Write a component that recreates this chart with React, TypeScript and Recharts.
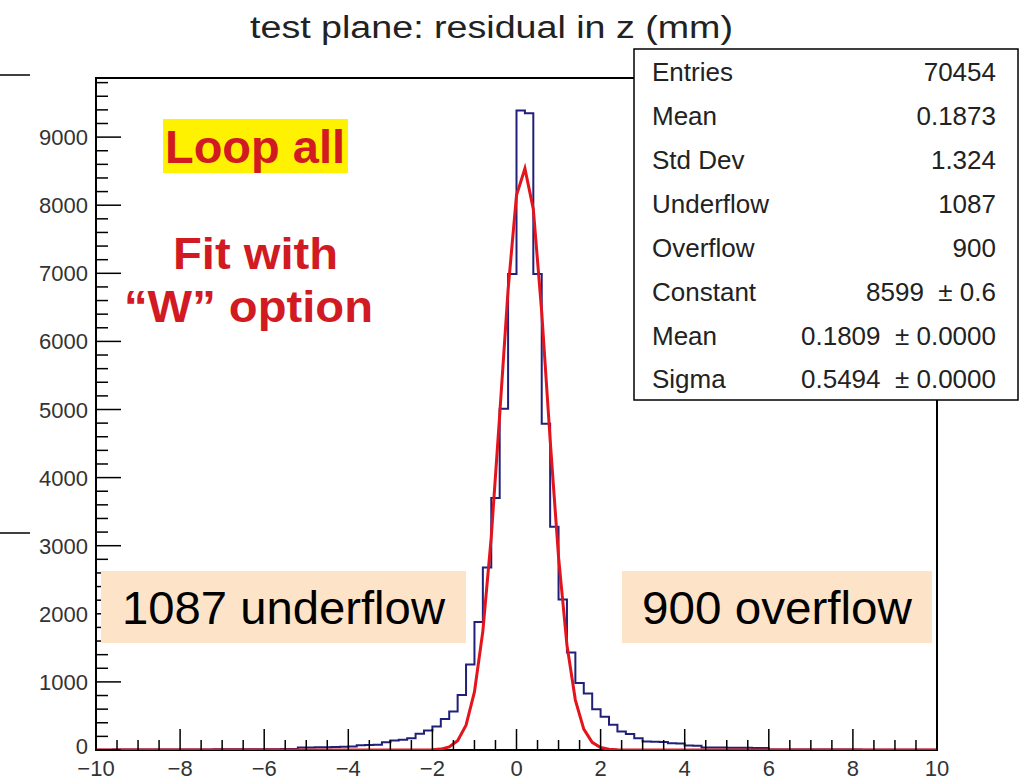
import React from "react";
import { ComposedChart, Line, XAxis, YAxis, ReferenceArea } from "recharts";

// ---- data ----
const binLow = -10;
const binWidth = 0.2;
// histogram bin contents (100 bins of 0.2 from -10 to 10)
const histCounts: number[] = [
  5, 5, 6, 6, 6, 7, 7, 7, 8, 8, 8, 9, 9, 9, 10, 10, 10, 11, 11, 12, 12, 12, 13, 13,
  36, 38, 40, 42, 44, 46,
  50,
  68, 72, 78,
  112,
  140, 152,
  172, 240, 285, 345, 455, 565, 809, 1254, 1878, 2680, 3700, 5010, 6990,
  9390, 9350,
  6990, 4790, 3280, 2210, 1430, 985, 830, 600, 490, 370, 270, 235, 172,
  124, 120, 116,
  98, 94,
  66, 62,
  38, 36, 35, 34, 33, 32, 31, 30,
  9, 9, 8, 8, 8, 7, 7, 7, 6, 6, 6, 5, 5, 5, 5, 4, 4, 4, 4, 3,
];
// fitted gaussian curve
const fitX: number[] = [-10, -2.4, -2.2, -2.0, -1.8, -1.6, -1.4, -1.2, -1.0, -0.8, -0.6, -0.4, -0.2, 0, 0.2, 0.4, 0.6, 0.8, 1.0, 1.2, 1.4, 1.6, 1.8, 2.0, 2.2, 2.4, 2.6, 10];
const fitY: number[] = [0, 0, 1, 3, 13, 45, 137, 365, 854, 1746, 3131, 4916, 6761, 8145, 8540, 7942, 6428, 4557, 2831, 1540, 733, 306, 112, 36, 10, 3, 1, 0];

const xMajorTicks: number[] = [-10, -8, -6, -4, -2, 0, 2, 4, 6, 8, 10];
const xTicks: number[] = [
  -10, -9.5, -9, -8.5, -8, -7.5, -7, -6.5, -6, -5.5, -5, -4.5, -4, -3.5, -3, -2.5, -2, -1.5, -1, -0.5,
  0, 0.5, 1, 1.5, 2, 2.5, 3, 3.5, 4, 4.5, 5, 5.5, 6, 6.5, 7, 7.5, 8, 8.5, 9, 9.5, 10,
];
const yMajorTicks: number[] = [0, 1000, 2000, 3000, 4000, 5000, 6000, 7000, 8000, 9000];
const yTicks: number[] = [
  0, 200, 400, 600, 800, 1000, 1200, 1400, 1600, 1800, 2000, 2200, 2400, 2600, 2800, 3000, 3200, 3400, 3600, 3800,
  4000, 4200, 4400, 4600, 4800, 5000, 5200, 5400, 5600, 5800, 6000, 6200, 6400, 6600, 6800, 7000, 7200, 7400, 7600, 7800,
  8000, 8200, 8400, 8600, 8800, 9000, 9200, 9400, 9600, 9800,
];
const yMax = 9868;

const statLabels: string[] = ["Entries", "Mean", "Std Dev", "Underflow", "Overflow", "Constant", "Mean", "Sigma"];
const statValues: string[] = ["70454", "0.1873", "1.324", "1087", "900", "8599  \u00b1 0.6", "0.1809  \u00b1 0.0000", "0.5494  \u00b1 0.0000"];

const titleText = "test plane: residual in z (mm)";

// tables built from the arrays
const histData = [
  ...histCounts.map((c, i) => ({ x: binLow + binWidth * i, h: c })),
  { x: 10, h: histCounts[histCounts.length - 1] },
];
const fitData = fitX.map((x, i) => ({ x, f: fitY[i] }));

const FONT = "'Liberation Sans', Arial, Helvetica, sans-serif";

const fmt = (v: number) => (v < 0 ? "\u2212" + Math.abs(v) : String(v));

const XTick = (props: any) => {
  const { x, y, payload } = props;
  const v = payload.value as number;
  const major = xMajorTicks.includes(v);
  return (
    <g>
      <line x1={x} x2={x} y1={y} y2={y - (major ? 21 : 10)} stroke="#000" strokeWidth={1.5} />
      {major && (
        <text x={x} y={y + 26} textAnchor="middle" fontSize={22} fill="#333" fontFamily={FONT}>
          {fmt(v)}
        </text>
      )}
    </g>
  );
};

const YTick = (props: any) => {
  const { x, y, payload } = props;
  const v = payload.value as number;
  const major = yMajorTicks.includes(v);
  return (
    <g>
      <line x1={x} x2={x + (major ? 25 : 12)} y1={y} y2={y} stroke="#000" strokeWidth={1.5} />
      {major && (
        <text x={x - 8} y={v === 0 ? y + 4 : y + 8} textAnchor="end" fontSize={22} fill="#333" fontFamily={FONT}>
          {String(v)}
        </text>
      )}
    </g>
  );
};

const RED = "#d11a22";

const Overlay = () => {
  const rowBase = [81, 125, 169, 213, 257, 301, 345, 388];
  return (
    <svg width={1024} height={782} style={{ position: "absolute", left: 0, top: 0, pointerEvents: "none" }}>
      {/* stray slide lines at far left */}
      <line x1={0} x2={30} y1={75} y2={75} stroke="#000" strokeWidth={1.5} />
      <line x1={0} x2={30} y1={533} y2={533} stroke="#000" strokeWidth={1.5} />
      {/* title */}
      <text x={250} y={38} fontSize={31} fill="#222" fontFamily={FONT} textLength={483} lengthAdjust="spacingAndGlyphs">
        {titleText}
      </text>
      {/* stats box */}
      <rect x={634} y={49} width={384} height={351} fill="#fff" stroke="#000" strokeWidth={1.5} />
      {statLabels.map((l, i) => (
        <text key={"l" + i} x={652} y={rowBase[i]} fontSize={26} fill="#222" fontFamily={FONT}>
          {l}
        </text>
      ))}
      {statValues.map((v, i) => (
        <text key={"v" + i} x={996} y={rowBase[i]} textAnchor="end" fontSize={26} fill="#222" fontFamily={FONT} style={{ whiteSpace: "pre" }}>
          {v}
        </text>
      ))}
      {/* Loop all */}
      <rect x={163} y={119} width={185} height={54} fill="#fff200" />
      <text x={165} y={163} fontSize={47} fontWeight="bold" fill={RED} fontFamily={FONT} textLength={180} lengthAdjust="spacingAndGlyphs">
        Loop all
      </text>
      {/* Fit with W option */}
      <text x={173} y={269} fontSize={45} fontWeight="bold" fill={RED} fontFamily={FONT} textLength={165} lengthAdjust="spacingAndGlyphs">
        Fit with
      </text>
      <text x={124} y={322} fontSize={45} fontWeight="bold" fill={RED} fontFamily={FONT} textLength={249} lengthAdjust="spacingAndGlyphs">
        {"\u201cW\u201d option"}
      </text>
      {/* underflow / overflow boxes */}
      <rect x={101} y={571} width={365} height={72} fill="#fde4c8" />
      <text x={122} y={624} fontSize={46} fill="#000" fontFamily={FONT} textLength={323} lengthAdjust="spacingAndGlyphs">
        1087 underflow
      </text>
      <rect x={622} y={571} width={310} height={72} fill="#fde4c8" />
      <text x={642} y={624} fontSize={46} fill="#000" fontFamily={FONT} textLength={270} lengthAdjust="spacingAndGlyphs">
        900 overflow
      </text>
    </svg>
  );
};

export default function App() {
  return (
    <div style={{ position: "absolute", left: 0, top: 0, width: 1024, height: 782, background: "#fff", overflow: "hidden" }}>
      <ComposedChart width={1024} height={782} margin={{ top: 78, right: 87, bottom: 2, left: 36 }}>
        <XAxis
          dataKey="x"
          type="number"
          domain={[-10, 10]}
          ticks={xTicks}
          interval={0}
          allowDataOverflow
          height={30}
          tickSize={0}
          tickMargin={0}
          tickLine={false}
          axisLine={false}
          tick={<XTick />}
        />
        <YAxis
          type="number"
          domain={[0, yMax]}
          ticks={yTicks}
          interval={0}
          allowDataOverflow
          width={60}
          tickSize={0}
          tickMargin={0}
          tickLine={false}
          axisLine={false}
          tick={<YTick />}
        />
        <ReferenceArea x1={-10} x2={10} y1={0} y2={yMax} fill="none" fillOpacity={0} stroke="#000" strokeWidth={2} ifOverflow="visible" />
        <Line data={histData} dataKey="h" type="stepAfter" stroke="#20207a" strokeWidth={2} dot={false} isAnimationActive={false} />
        <Line data={fitData} dataKey="f" type="linear" stroke="#e3141c" strokeWidth={3} dot={false} isAnimationActive={false} />
      </ComposedChart>
      <Overlay />
    </div>
  );
}
